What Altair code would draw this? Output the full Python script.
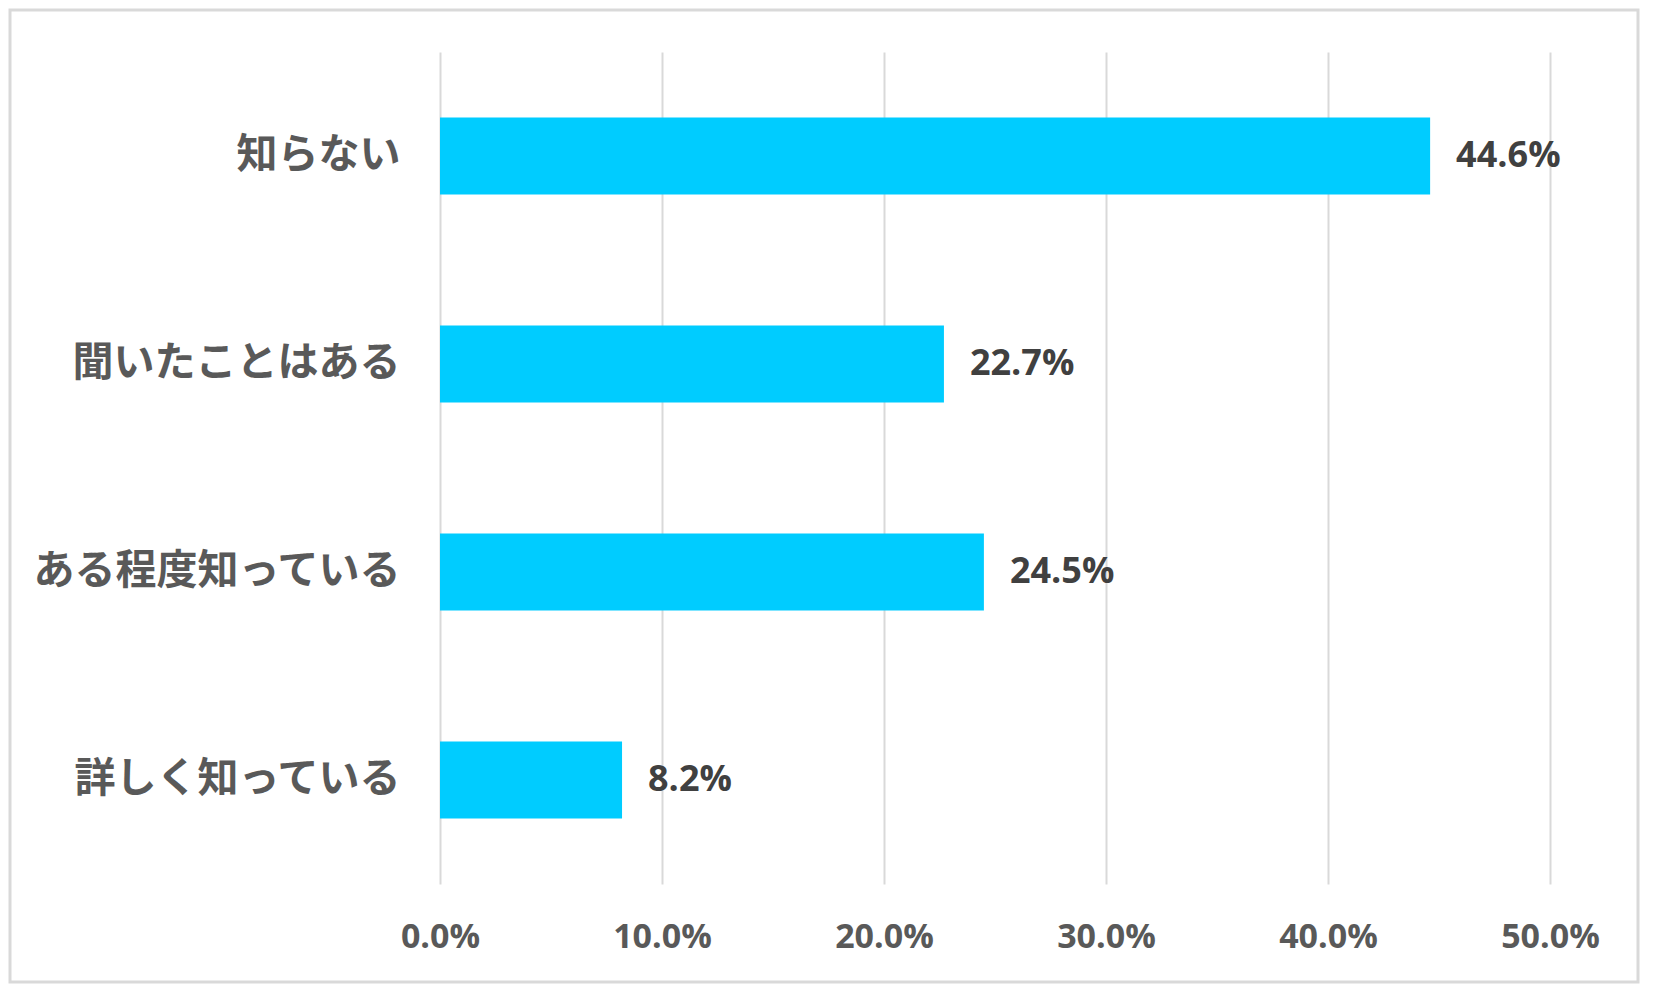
import altair as alt
import pandas as pd

categories = ["知らない", "聞いたことはある", "ある程度知っている", "詳しく知っている"]
values = [44.6, 22.7, 24.5, 8.2]
tick_values = [0, 10, 20, 30, 40, 50]

df = pd.DataFrame({"category": categories, "value": values})

PLOT_W, PLOT_H = 1110, 832
PAD = {"left": 432, "top": 44, "right": 90, "bottom": 100}

base = alt.Chart(df).encode(
    y=alt.Y(
        "category:N",
        sort=categories,
        scale=alt.Scale(paddingInner=0.63, paddingOuter=0.315),
        axis=alt.Axis(
            title=None,
            ticks=False,
            domain=False,
            grid=False,
            labelFont="Noto Sans CJK JP",
            labelFontSize=41,
            labelFontWeight="bold",
            labelColor="#595959",
            labelPadding=40,
            labelLimit=600,
        ),
    )
)

bars = base.mark_bar(color="#00CCFF").encode(
    x=alt.X(
        "value:Q",
        scale=alt.Scale(domain=[0, 50], nice=False),
        axis=alt.Axis(
            title=None,
            values=tick_values,
            labelExpr="format(datum.value, '.1f') + '%'",
            ticks=False,
            domain=False,
            grid=True,
            gridColor="#d9d9d9",
            gridWidth=2,
            labelFont="Open Sans",
            labelFontSize=34,
            labelFontWeight="bold",
            labelColor="#595959",
            labelPadding=53,
            labelBaseline="middle",
            labelFlush=False,
            labelOverlap=False,
        ),
    )
)

labels = base.mark_text(
    align="left",
    baseline="middle",
    dx=26,
    font="Open Sans",
    fontSize=36,
    fontWeight="bold",
    color="#404040",
).transform_calculate(
    label="format(datum.value, '.1f') + '%'"
).encode(x="value:Q", text="label:N")

# decorative outer frame around the whole chart
frame = alt.Chart(pd.DataFrame({"f": [0]})).mark_rect(
    fill="transparent", stroke="#d9d9d9", strokeWidth=3
).encode(
    x=alt.value(-PAD["left"] + 2),
    x2=alt.value(PLOT_W + PAD["right"] - 2),
    y=alt.value(-PAD["top"] + 2),
    y2=alt.value(PLOT_H + PAD["bottom"] - 2),
)

chart = (
    alt.layer(frame, bars, labels)
    .properties(
        width=PLOT_W,
        height=PLOT_H,
        background="white",
        autosize=alt.AutoSizeParams(type="none"),
        padding=PAD,
    )
    .configure_view(stroke=None)
)

chart.save("out.html", embed_options={"renderer": "svg", "actions": False})
